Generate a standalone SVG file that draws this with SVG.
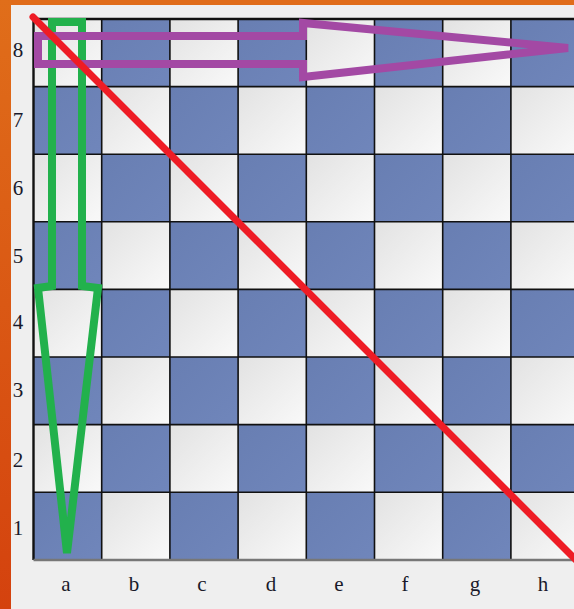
<svg xmlns="http://www.w3.org/2000/svg" width="574" height="609" viewBox="0 0 574 609">
<defs>
<linearGradient id="lt" x1="0" y1="0" x2="1" y2="1"><stop offset="0" stop-color="#e2e2e2"/><stop offset="1" stop-color="#f9f9f9"/></linearGradient>
<linearGradient id="dk" x1="0" y1="0" x2="1" y2="1"><stop offset="0" stop-color="#687eb2"/><stop offset="1" stop-color="#7086bb"/></linearGradient>
<linearGradient id="or" x1="0" y1="0" x2="0" y2="1"><stop offset="0" stop-color="#e06e1a"/><stop offset="1" stop-color="#d4420e"/></linearGradient>
<style>
.l{fill:url(#lt)}
.d{fill:url(#dk)}
.lbl{font-family:'Liberation Serif','Times New Roman',serif;font-size:21px;fill:#1a1a2a;text-anchor:middle}
</style>
</defs>
<rect width="574" height="609" fill="#efefef"/>
<rect x="0" y="0" width="574" height="5" fill="#e06c1a"/>
<rect x="0" y="0" width="11" height="609" fill="url(#or)"/>
<g id="board">
<rect x="33.5" y="19" width="550" height="541" fill="#6b80b5"/>
<g id="squares">
<rect class="l" x="33.5" y="19" width="68.2" height="67.6"/><rect class="d" x="101.7" y="19" width="68.2" height="67.6"/><rect class="l" x="169.9" y="19" width="68.2" height="67.6"/><rect class="d" x="238.1" y="19" width="68.2" height="67.6"/><rect class="l" x="306.3" y="19" width="68.2" height="67.6"/><rect class="d" x="374.5" y="19" width="68.2" height="67.6"/><rect class="l" x="442.7" y="19" width="68.2" height="67.6"/><rect class="d" x="510.9" y="19" width="68.2" height="67.6"/>
<rect class="d" x="33.5" y="86.6" width="68.2" height="67.6"/><rect class="l" x="101.7" y="86.6" width="68.2" height="67.6"/><rect class="d" x="169.9" y="86.6" width="68.2" height="67.6"/><rect class="l" x="238.1" y="86.6" width="68.2" height="67.6"/><rect class="d" x="306.3" y="86.6" width="68.2" height="67.6"/><rect class="l" x="374.5" y="86.6" width="68.2" height="67.6"/><rect class="d" x="442.7" y="86.6" width="68.2" height="67.6"/><rect class="l" x="510.9" y="86.6" width="68.2" height="67.6"/>
<rect class="l" x="33.5" y="154.2" width="68.2" height="67.6"/><rect class="d" x="101.7" y="154.2" width="68.2" height="67.6"/><rect class="l" x="169.9" y="154.2" width="68.2" height="67.6"/><rect class="d" x="238.1" y="154.2" width="68.2" height="67.6"/><rect class="l" x="306.3" y="154.2" width="68.2" height="67.6"/><rect class="d" x="374.5" y="154.2" width="68.2" height="67.6"/><rect class="l" x="442.7" y="154.2" width="68.2" height="67.6"/><rect class="d" x="510.9" y="154.2" width="68.2" height="67.6"/>
<rect class="d" x="33.5" y="221.8" width="68.2" height="67.6"/><rect class="l" x="101.7" y="221.8" width="68.2" height="67.6"/><rect class="d" x="169.9" y="221.8" width="68.2" height="67.6"/><rect class="l" x="238.1" y="221.8" width="68.2" height="67.6"/><rect class="d" x="306.3" y="221.8" width="68.2" height="67.6"/><rect class="l" x="374.5" y="221.8" width="68.2" height="67.6"/><rect class="d" x="442.7" y="221.8" width="68.2" height="67.6"/><rect class="l" x="510.9" y="221.8" width="68.2" height="67.6"/>
<rect class="l" x="33.5" y="289.4" width="68.2" height="67.6"/><rect class="d" x="101.7" y="289.4" width="68.2" height="67.6"/><rect class="l" x="169.9" y="289.4" width="68.2" height="67.6"/><rect class="d" x="238.1" y="289.4" width="68.2" height="67.6"/><rect class="l" x="306.3" y="289.4" width="68.2" height="67.6"/><rect class="d" x="374.5" y="289.4" width="68.2" height="67.6"/><rect class="l" x="442.7" y="289.4" width="68.2" height="67.6"/><rect class="d" x="510.9" y="289.4" width="68.2" height="67.6"/>
<rect class="d" x="33.5" y="357" width="68.2" height="67.6"/><rect class="l" x="101.7" y="357" width="68.2" height="67.6"/><rect class="d" x="169.9" y="357" width="68.2" height="67.6"/><rect class="l" x="238.1" y="357" width="68.2" height="67.6"/><rect class="d" x="306.3" y="357" width="68.2" height="67.6"/><rect class="l" x="374.5" y="357" width="68.2" height="67.6"/><rect class="d" x="442.7" y="357" width="68.2" height="67.6"/><rect class="l" x="510.9" y="357" width="68.2" height="67.6"/>
<rect class="l" x="33.5" y="424.6" width="68.2" height="67.6"/><rect class="d" x="101.7" y="424.6" width="68.2" height="67.6"/><rect class="l" x="169.9" y="424.6" width="68.2" height="67.6"/><rect class="d" x="238.1" y="424.6" width="68.2" height="67.6"/><rect class="l" x="306.3" y="424.6" width="68.2" height="67.6"/><rect class="d" x="374.5" y="424.6" width="68.2" height="67.6"/><rect class="l" x="442.7" y="424.6" width="68.2" height="67.6"/><rect class="d" x="510.9" y="424.6" width="68.2" height="67.6"/>
<rect class="d" x="33.5" y="492.2" width="68.2" height="67.6"/><rect class="l" x="101.7" y="492.2" width="68.2" height="67.6"/><rect class="d" x="169.9" y="492.2" width="68.2" height="67.6"/><rect class="l" x="238.1" y="492.2" width="68.2" height="67.6"/><rect class="d" x="306.3" y="492.2" width="68.2" height="67.6"/><rect class="l" x="374.5" y="492.2" width="68.2" height="67.6"/><rect class="d" x="442.7" y="492.2" width="68.2" height="67.6"/><rect class="l" x="510.9" y="492.2" width="68.2" height="67.6"/>
</g>
<g id="gridlines" stroke="#111" stroke-width="1.6" fill="none">
<path d="M101.7 19V560M169.9 19V560M238.1 19V560M306.3 19V560M374.5 19V560M442.7 19V560M510.9 19V560"/>
<path d="M33.5 86.6H580M33.5 154.2H580M33.5 221.8H580M33.5 289.4H580M33.5 357H580M33.5 424.6H580M33.5 492.2H580"/>
<path d="M33.5 19H580M33.5 19V560" stroke-width="2.4"/>
<path d="M33.5 560H580" stroke="#777" stroke-width="2.4"/>
</g>
</g>
<g id="labels">
<text class="lbl" font-family="Liberation Serif, serif" x="18" y="57">8</text>
<text class="lbl" font-family="Liberation Serif, serif" x="18" y="127">7</text>
<text class="lbl" font-family="Liberation Serif, serif" x="18" y="195">6</text>
<text class="lbl" font-family="Liberation Serif, serif" x="18" y="263">5</text>
<text class="lbl" font-family="Liberation Serif, serif" x="18" y="329">4</text>
<text class="lbl" font-family="Liberation Serif, serif" x="18" y="397">3</text>
<text class="lbl" font-family="Liberation Serif, serif" x="18" y="467">2</text>
<text class="lbl" font-family="Liberation Serif, serif" x="18" y="535">1</text>
<text class="lbl" font-family="Liberation Serif, serif" x="66" y="591">a</text>
<text class="lbl" font-family="Liberation Serif, serif" x="134" y="591">b</text>
<text class="lbl" font-family="Liberation Serif, serif" x="202" y="591">c</text>
<text class="lbl" font-family="Liberation Serif, serif" x="271" y="591">d</text>
<text class="lbl" font-family="Liberation Serif, serif" x="339" y="591">e</text>
<text class="lbl" font-family="Liberation Serif, serif" x="405" y="591">f</text>
<text class="lbl" font-family="Liberation Serif, serif" x="475" y="591">g</text>
<text class="lbl" font-family="Liberation Serif, serif" x="543" y="591">h</text>
</g>
<g id="connectors" fill="none" stroke-linejoin="miter">
<polygon id="green-arrow" points="52,22 82,22 82,286 98,288 67,553 38,288 52,286" stroke="#22b14c" stroke-width="8"/>
<polygon id="purple-arrow" points="38,36 303,36 303,23 568,48 303,77 303,64 38,64" stroke="#a349a4" stroke-width="8"/>
<line id="red-line" x1="33" y1="17" x2="578" y2="562" stroke="#ee1c25" stroke-width="7" stroke-linecap="round"/>
</g>
</svg>
